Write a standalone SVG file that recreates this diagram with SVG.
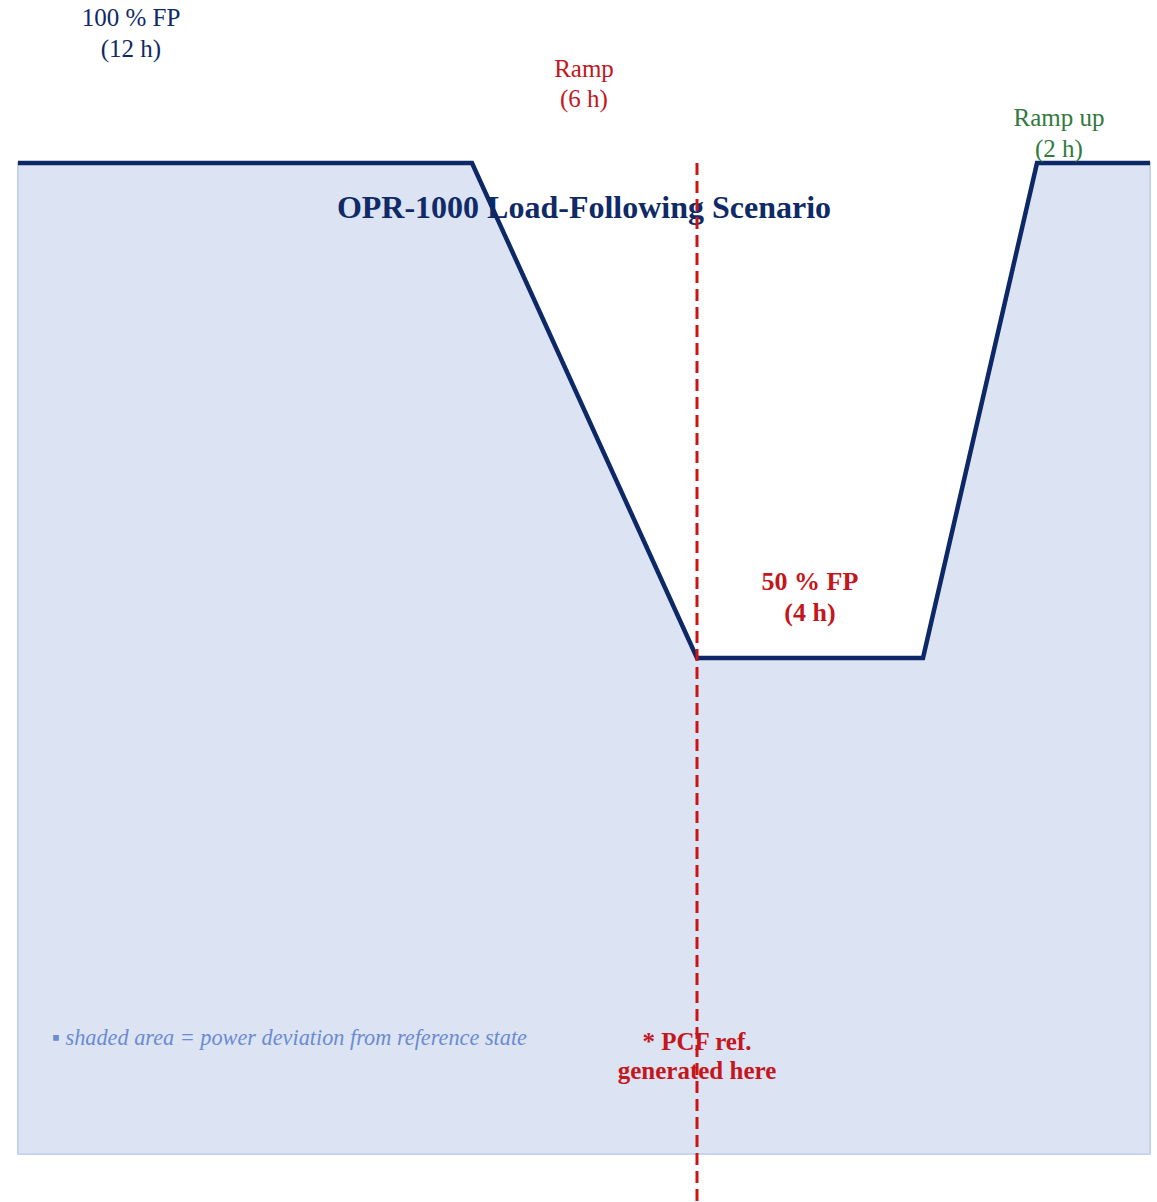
<svg xmlns="http://www.w3.org/2000/svg" width="1157" height="1202" viewBox="0 0 1157 1202">
<style>
.lbl{font-family:"Liberation Serif","Times New Roman",serif;text-anchor:middle}
.navy{fill:#0f2a66}
.red{fill:#c4161c}
.green{fill:#2f7a3c}
.bold{font-weight:bold}
</style>
<rect width="1157" height="1202" fill="#ffffff"/>
<g id="shaded-area">
<polygon points="18,163 472,163 697,658 923,658 1037,163 1150,163 1150,1154 18,1154" fill="#dce3f3" stroke="#c6d3ee" stroke-width="2"/>
</g>
<g id="title"><text class="lbl navy bold" x="584" y="218" font-size="32">OPR-1000 Load-Following Scenario</text></g>
<g id="connectors">
<polyline points="18,163 472,163 697,658 923,658 1037,163 1150,163" fill="none" stroke="#0d2866" stroke-width="4.5" stroke-linejoin="miter"/>
<line x1="697" y1="163" x2="697" y2="1202" stroke="#cc1414" stroke-width="3" stroke-dasharray="12,6"/>
</g>
<g id="label-100fp">
<text class="lbl navy" x="131" y="26" font-size="25">100 % FP</text>
<text class="lbl navy" x="131" y="57" font-size="25">(12 h)</text>
</g>
<g id="label-ramp">
<text class="lbl red" x="584" y="77" font-size="25">Ramp</text>
<text class="lbl red" x="584" y="107" font-size="25">(6 h)</text>
</g>
<g id="label-rampup">
<text class="lbl green" x="1059" y="126" font-size="25">Ramp up</text>
<text class="lbl green" x="1059" y="157" font-size="25">(2 h)</text>
</g>
<g id="label-50fp">
<text class="lbl red bold" x="810" y="590" font-size="26">50 % FP</text>
<text class="lbl red bold" x="810" y="621" font-size="26">(4 h)</text>
</g>
<g id="label-pcf">
<text class="lbl red bold" x="697" y="1050" font-size="25">* PCF ref.</text>
<text class="lbl red bold" x="697" y="1079" font-size="25">generated here</text>
</g>
<g id="legend">
<text x="52" y="1045" font-family="Liberation Serif,serif" font-style="italic" font-size="23" fill="#6b8bd0" textLength="475" lengthAdjust="spacingAndGlyphs">▪ shaded area = power deviation from reference state</text>
</g>
</svg>
